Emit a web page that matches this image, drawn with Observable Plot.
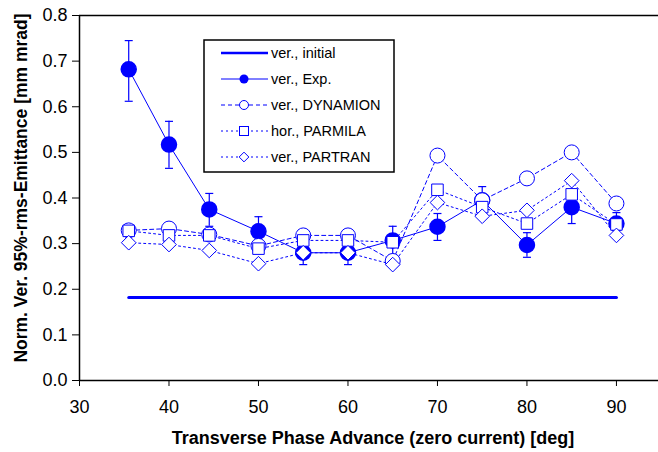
<!DOCTYPE html>
<html><head><meta charset="utf-8">
<script src="https://cdn.jsdelivr.net/npm/d3@7"></script>
<script src="https://cdn.jsdelivr.net/npm/@observablehq/plot@0.6"></script>
<style>
html,body{margin:0;padding:0;background:#fff;}
#chart{position:relative;width:658px;height:452px;overflow:hidden;}
</style></head><body><div id="chart"></div>
<script>
// ---- data ----
const phase = [35.5, 40, 44.5, 50, 55, 60, 65, 70, 75, 80, 85, 90];
const expVer = [0.682, 0.517, 0.375, 0.327, 0.28, 0.28, 0.307, 0.337, 0.395, 0.297, 0.38, 0.344];
const expErrLow = [0.612, 0.465, 0.338, 0.295, 0.254, 0.254, 0.276, 0.307, 0.365, 0.27, 0.344, 0.318];
const expErrHigh = [0.745, 0.568, 0.41, 0.359, 0.306, 0.306, 0.338, 0.366, 0.425, 0.324, 0.414, 0.368];
const dynamion = [0.329, 0.333, 0.32, 0.295, 0.318, 0.318, 0.262, 0.493, 0.395, 0.443, 0.5, 0.388];
const parmila = [0.328, 0.318, 0.318, 0.289, 0.307, 0.307, 0.303, 0.418, 0.38, 0.344, 0.408, 0.342];
const partran = [0.302, 0.298, 0.285, 0.256, 0.28, 0.28, 0.254, 0.39, 0.36, 0.373, 0.438, 0.318];
const initialPhase = [35.5, 90];
const initialVer = [0.182, 0.182];
const xTicks = [30, 40, 50, 60, 70, 80, 90];
const yTicks = [0, 0.1, 0.2, 0.3, 0.4, 0.5, 0.6, 0.7, 0.8];
const legendLabels = ["ver., initial", "ver., Exp.", "ver., DYNAMION", "hor., PARMILA", "ver., PARTRAN"];
const xLabel = "Transverse Phase Advance (zero current) [deg]";
const yLabel = "Norm. Ver. 95%-rms-Emittance [mm mrad]";

const rows = phase.map((x, i) => ({x, exp: expVer[i], lo: expErrLow[i], hi: expErrHigh[i], dyn: dynamion[i], par: parmila[i], ptr: partran[i]}));
const initRows = initialPhase.map((x, i) => ({x, y: initialVer[i]}));

const BLUE = "#0000ff";
const FONT = "'Liberation Sans', Arial, sans-serif";
const cap = {draw(ctx) { ctx.moveTo(-4, 0); ctx.lineTo(4, 0); }};

const chart = Plot.plot({
  width: 658, height: 452,
  marginLeft: 79, marginRight: 0, marginTop: 15, marginBottom: 72,
  x: {domain: [30, 94.7], ticks: xTicks, tickSize: 6, tickPadding: 14, tickFormat: "d", label: null},
  y: {domain: [0, 0.8], ticks: yTicks, tickSize: 7, tickPadding: 5, tickFormat: ".1f", label: null},
  style: {fontFamily: FONT, fontSize: "18px", color: "black", background: "white"},
  marks: [
    Plot.ruleY([0.8], {stroke: "black", strokeWidth: 1.5}),
    Plot.ruleX([30], {stroke: "black", strokeWidth: 1.5}),
    Plot.ruleY([0], {stroke: "black", strokeWidth: 1.5}),
    Plot.line(initRows, {x: "x", y: "y", stroke: BLUE, strokeWidth: 3}),
    Plot.line(rows, {x: "x", y: "dyn", stroke: BLUE, strokeWidth: 1, strokeDasharray: "4,3"}),
    Plot.line(rows, {x: "x", y: "par", stroke: BLUE, strokeWidth: 1, strokeDasharray: "2,3"}),
    Plot.line(rows, {x: "x", y: "ptr", stroke: BLUE, strokeWidth: 1, strokeDasharray: "2,3"}),
    Plot.line(rows, {x: "x", y: "exp", stroke: BLUE, strokeWidth: 1}),
    Plot.ruleX(rows, {x: "x", y1: "lo", y2: "hi", stroke: BLUE, strokeWidth: 1.2}),
    Plot.dot(rows, {x: "x", y: "lo", symbol: cap, stroke: BLUE, fill: "none", strokeWidth: 1.2}),
    Plot.dot(rows, {x: "x", y: "hi", symbol: cap, stroke: BLUE, fill: "none", strokeWidth: 1.2}),
    Plot.dot(rows, {x: "x", y: "exp", r: 7.5, fill: BLUE, stroke: BLUE}),
    Plot.dot(rows, {x: "x", y: "dyn", r: 7.5, fill: "white", stroke: BLUE, strokeWidth: 1}),
    Plot.dot(rows, {x: "x", y: "par", symbol: "square", r: 6.5, fill: "white", stroke: BLUE, strokeWidth: 1}),
    Plot.dot(rows, {x: "x", y: "ptr", symbol: "diamond2", r: 6.6, fill: "white", stroke: BLUE, strokeWidth: 1})
  ]
});
document.getElementById("chart").appendChild(chart);

// ---- axis titles ----
const svg = d3.select(chart);
svg.append("text").attr("x", 373).attr("y", 444).attr("text-anchor", "middle")
  .attr("font-family", FONT).attr("font-weight", "bold").attr("font-size", 18).attr("fill", "black").text(xLabel);
svg.append("text").attr("transform", "translate(27,188) rotate(-90)").attr("text-anchor", "middle")
  .attr("font-family", FONT).attr("font-weight", "bold").attr("font-size", 17.5).attr("fill", "black").text(yLabel);

// ---- legend ----
const lg = svg.append("g").attr("font-family", FONT).attr("font-size", 14.5).attr("text-anchor", "start");
lg.append("rect").attr("x", 204).attr("y", 40).attr("width", 190).attr("height", 132)
  .attr("fill", "white").attr("stroke", "black").attr("stroke-width", 1.5);
const dashes = [null, null, "4,3", "2,3", "2,3"];
const widths = [2.5, 1, 1, 1, 1];
const sym = d3.symbol();
legendLabels.forEach((lab, i) => {
  const cy = 53 + i * 26;
  const g = lg.append("g");
  g.append("line").attr("x1", 221).attr("x2", 268).attr("y1", cy).attr("y2", cy)
    .attr("stroke", BLUE).attr("stroke-width", widths[i]).attr("stroke-dasharray", dashes[i]);
  if (i === 1) g.append("circle").attr("cx", 244).attr("cy", cy).attr("r", 4.5).attr("fill", BLUE);
  if (i === 2) g.append("circle").attr("cx", 244).attr("cy", cy).attr("r", 4.5).attr("fill", "white").attr("stroke", BLUE);
  if (i === 3) g.append("rect").attr("x", 239.5).attr("y", cy - 4.5).attr("width", 9).attr("height", 9).attr("fill", "white").attr("stroke", BLUE);
  if (i === 4) g.append("path").attr("transform", `translate(244,${cy})`).attr("d", sym.type(d3.symbolDiamond2).size(60)()).attr("fill", "white").attr("stroke", BLUE);
  g.append("text").attr("x", 271).attr("y", cy).attr("dy", "0.35em").attr("text-anchor", "start").attr("fill", "black").text(lab);
});
</script>
</body></html>
